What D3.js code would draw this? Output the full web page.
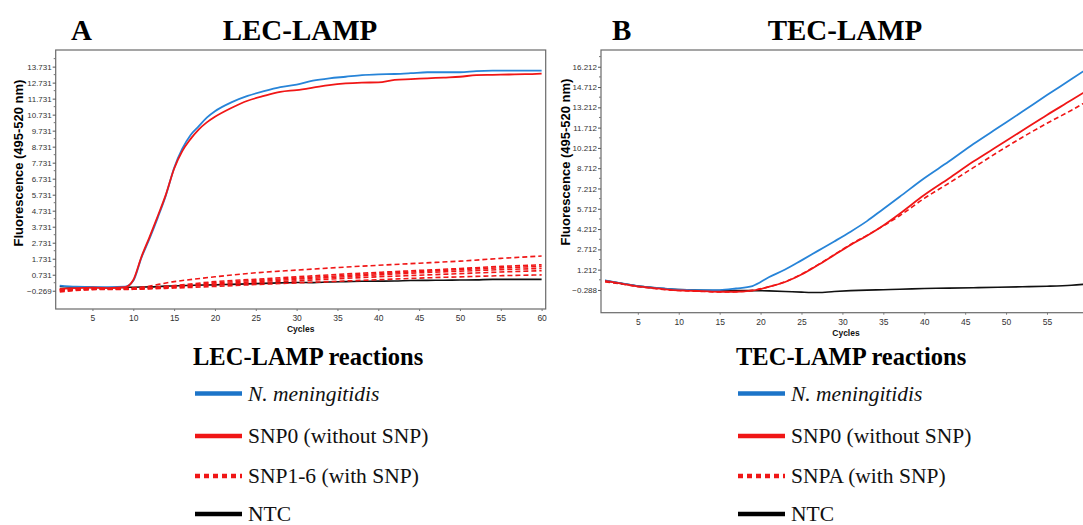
<!DOCTYPE html>
<html>
<head>
<meta charset="utf-8">
<script src="https://cdn.jsdelivr.net/npm/d3@7"></script>
<style>
  body { margin: 0; background: #fff; }
  svg { display: block; overflow: hidden; }
</style>
</head>
<body>
<svg id="chart" width="1083" height="525"></svg>
<script>
// ---- Panel A data (LEC-LAMP) ----
const cyclesA = [1, 3, 5, 7, 9, 10, 11, 12, 13, 14, 15, 16, 17, 18, 19, 20, 22, 24, 26, 28, 30,
  32, 34, 36, 38, 40, 42, 44, 46, 48, 50, 52, 54, 56, 58, 60];
const blueA = [0.05, -0.02, -0.05, -0.05, -0.02, 0.35, 1.8, 3.0, 4.3, 5.7, 7.4, 8.6, 9.45, 10.0, 10.55, 10.95,
  11.5, 11.9, 12.2, 12.45, 12.6, 12.85, 13.0, 13.1, 13.2, 13.25, 13.27, 13.32, 13.38, 13.38, 13.38,
  13.45, 13.48, 13.48, 13.48, 13.48];
const redA = [-0.15, -0.1, -0.08, -0.1, -0.05, 0.4, 1.85, 3.1, 4.4, 5.75, 7.35, 8.45, 9.2, 9.8, 10.25, 10.6,
  11.15, 11.6, 11.9, 12.15, 12.27, 12.42, 12.58, 12.68, 12.73, 12.75, 12.9, 12.95, 13.0, 13.05, 13.1,
  13.2, 13.22, 13.24, 13.26, 13.3];
const ntcA = [0.0, -0.04, -0.06, -0.08, -0.06, -0.05, -0.04, -0.03, -0.01, 0.02, 0.03, 0.05, 0.06, 0.08, 0.09, 0.1,
  0.13, 0.16, 0.19, 0.22, 0.25, 0.24, 0.28, 0.3, 0.32, 0.33, 0.34, 0.37, 0.38, 0.39, 0.4,
  0.41, 0.44, 0.44, 0.44, 0.44];

// SNP1-6 dashed curves, coarser sampling
const cyclesSnpA = [1, 5, 10, 15, 20, 25, 30, 35, 40, 45, 50, 55, 60];
const snp1 = [-0.2, -0.15, -0.1, 0.3, 0.6, 0.85, 1.02, 1.18, 1.32, 1.45, 1.58, 1.75, 1.9];
const snp2 = [-0.25, -0.15, -0.12, 0.05, 0.3, 0.45, 0.6, 0.75, 0.88, 1.0, 1.12, 1.25, 1.35];
const snp3 = [-0.2, -0.18, -0.15, 0.0, 0.22, 0.38, 0.52, 0.66, 0.8, 0.93, 1.05, 1.16, 1.25];
const snp4 = [-0.2, -0.15, -0.15, -0.02, 0.15, 0.3, 0.45, 0.58, 0.72, 0.85, 0.95, 1.05, 1.12];
const snp5 = [-0.3, -0.18, -0.15, -0.05, 0.1, 0.22, 0.35, 0.48, 0.6, 0.7, 0.8, 0.9, 0.98];
const snp6 = [-0.35, -0.2, -0.18, -0.1, 0.0, 0.12, 0.22, 0.32, 0.42, 0.52, 0.6, 0.67, 0.72];

// ---- Panel B data (TEC-LAMP) ----
const cyclesB = [1, 3, 5, 7, 9, 11, 13, 15, 17, 19, 21, 23, 25, 27, 29, 31, 33, 35, 37, 40, 43, 46, 49, 52, 55, 58, 60];
const blueB = [0.42, 0.2, 0.0, -0.12, -0.22, -0.28, -0.3, -0.3, -0.18, 0.0, 0.65, 1.22, 1.9, 2.6, 3.3, 4.02, 4.8,
  5.7, 6.6, 7.97, 9.2, 10.5, 11.7, 12.9, 14.12, 15.3, 16.1];
const redB = [0.38, 0.18, -0.02, -0.15, -0.28, -0.34, -0.38, -0.42, -0.42, -0.34, -0.06, 0.3, 0.85, 1.55, 2.3, 3.04,
  3.72, 4.48, 5.35, 6.73, 7.95, 9.2, 10.35, 11.5, 12.65, 13.75, 14.5];
const snpaB = [0.3, 0.15, -0.05, -0.18, -0.3, -0.36, -0.4, -0.44, -0.42, -0.32, -0.05, 0.32, 0.88, 1.57, 2.32, 3.08,
  3.75, 4.45, 5.2, 6.48, 7.6, 8.75, 9.9, 11.0, 12.03, 13.0, 13.7];
const ntcB = [0.4, 0.2, 0.0, -0.12, -0.22, -0.28, -0.32, -0.34, -0.34, -0.34, -0.36, -0.4, -0.45, -0.48, -0.4, -0.34,
  -0.3, -0.27, -0.24, -0.18, -0.15, -0.12, -0.09, -0.05, -0.01, 0.06, 0.15];

// ---- axis ticks ----
const xTicksA = [5, 10, 15, 20, 25, 30, 35, 40, 45, 50, 55, 60];
const xTicksB = [5, 10, 15, 20, 25, 30, 35, 40, 45, 50, 55];
const yTicksA = [-0.269, 0.731, 1.731, 2.731, 3.731, 4.731, 5.731, 6.731, 7.731, 8.731, 9.731, 10.731, 11.731, 12.731, 13.731];
const yTicksB = [-0.288, 1.212, 2.712, 4.212, 5.712, 7.212, 8.712, 10.212, 11.712, 13.212, 14.712, 16.212];

// ---- legend ----
const legendA = ["N. meningitidis", "SNP0 (without SNP)", "SNP1-6 (with SNP)", "NTC"];
const legendB = ["N. meningitidis", "SNP0 (without SNP)", "SNPA (with SNP)", "NTC"];

const BLUE = "#2784d8", RED = "#f01616", BLACK = "#111";
const serif = "'Liberation Serif', 'Times New Roman', serif";
const sans = "'Liberation Sans', Arial, sans-serif";

const svg = d3.select("#chart");

function drawPanel(p) {
  const x = d3.scaleLinear().domain([0.5, 60.5]).range([p.left, p.right]);
  const y = d3.scaleLinear().domain(p.yDomain).range([p.bottom, p.top]);
  const g = svg.append("g");

  // frame
  g.append("rect")
    .attr("x", p.left).attr("y", p.top)
    .attr("width", p.right - p.left).attr("height", p.bottom - p.top)
    .attr("fill", "none").attr("stroke", "#6a6a6a").attr("stroke-width", 1.2);

  // y axis
  const yAxis = g.append("g")
    .attr("transform", `translate(${p.left},0)`)
    .call(d3.axisLeft(y).tickValues(p.yTicks).tickSize(3).tickPadding(1).tickFormat(d3.format(".3f")));
  yAxis.select(".domain").remove();
  yAxis.selectAll("line").attr("stroke", "#555");
  yAxis.selectAll("text").attr("font-family", sans).attr("font-size", 8).attr("fill", "#333");
  // minor ticks
  const step = p.yTicks[1] - p.yTicks[0];
  g.selectAll(".minor")
    .data(p.yTicks.map(v => v + step / 2).filter(v => y(v) > p.top))
    .enter().append("line")
    .attr("x1", p.left - 2).attr("x2", p.left)
    .attr("y1", d => y(d)).attr("y2", d => y(d))
    .attr("stroke", "#777");

  // x axis
  const xAxis = g.append("g")
    .attr("transform", `translate(0,${p.bottom})`)
    .call(d3.axisBottom(x).tickValues(p.xTicks).tickSize(2).tickPadding(4));
  xAxis.select(".domain").remove();
  xAxis.selectAll("line").attr("stroke", "#777");
  xAxis.selectAll("text").attr("font-family", sans).attr("font-size", 8.5).attr("fill", "#333");

  // axis titles
  g.append("text")
    .attr("x", (p.left + p.right) / 2 + p.cyclesDx).attr("y", p.bottom + 23)
    .attr("text-anchor", "middle").attr("font-family", sans).attr("font-weight", "bold")
    .attr("font-size", 8.5).attr("fill", "#111").text("Cycles");
  g.append("text")
    .attr("transform", `translate(${p.yLabelX},${p.yLabelY}) rotate(-90)`)
    .attr("text-anchor", "middle").attr("font-family", sans).attr("font-weight", "bold")
    .attr("font-size", 13).attr("fill", "#000").text("Fluorescence (495-520 nm)");

  // curves
  const line = d3.line().x(d => x(d[0])).y(d => y(d[1])).curve(d3.curveMonotoneX);
  const plot = g.append("g");
  p.series.forEach(s => {
    plot.append("path")
      .datum(s.cycles.map((c, i) => [c, s.values[i]]))
      .attr("d", line)
      .attr("fill", "none")
      .attr("stroke", s.color)
      .attr("stroke-width", s.width || 1.8)
      .attr("stroke-dasharray", s.dash || null);
  });

  // panel letter and title
  svg.append("text").attr("x", p.letterX).attr("y", 40)
    .attr("font-family", serif).attr("font-weight", "bold").attr("font-size", 29).text(p.letter);
  svg.append("text").attr("x", p.titleX).attr("y", 40).attr("text-anchor", "middle")
    .attr("font-family", serif).attr("font-weight", "bold").attr("font-size", 29).text(p.title);

  // legend
  const lg = svg.append("g");
  lg.append("text").attr("x", p.legX - 2).attr("y", 365)
    .attr("font-family", serif).attr("font-weight", "bold").attr("font-size", 24.5)
    .text(p.title + " reactions");
  const ys = [393.5, 436, 476, 514];
  const styles = [
    {color: "#1c74c8", dash: null},
    {color: RED, dash: null},
    {color: RED, dash: "5,4"},
    {color: "#000", dash: null}
  ];
  p.legend.forEach((label, i) => {
    lg.append("line")
      .attr("x1", p.legX).attr("x2", p.legX + 47)
      .attr("y1", ys[i]).attr("y2", ys[i])
      .attr("stroke", styles[i].color).attr("stroke-width", 4.5)
      .attr("stroke-dasharray", styles[i].dash);
    lg.append("text").attr("x", p.legX + 53).attr("y", ys[i] + 7)
      .attr("font-family", serif).attr("font-size", 21.5).attr("fill", "#111")
      .attr("font-style", i === 0 ? "italic" : "normal")
      .text(label);
  });
}

const dashA = "5,3";
drawPanel({
  left: 55.7, right: 545.7, top: 50, bottom: 309,
  yDomain: [-1.41, 14.77], yTicks: yTicksA, xTicks: xTicksA,
  yLabelX: 23, yLabelY: 163, cyclesDx: 0,
  letter: "A", letterX: 71, title: "LEC-LAMP", titleX: 300,
  legend: legendA, legX: 195,
  series: [
    {cycles: cyclesA, values: ntcA, color: BLACK, width: 1.6},
    {cycles: cyclesA, values: blueA, color: BLUE},
    {cycles: cyclesA, values: redA, color: RED},
    {cycles: cyclesSnpA, values: snp6, color: RED, dash: dashA, width: 1.6},
    {cycles: cyclesSnpA, values: snp5, color: RED, dash: dashA, width: 1.6},
    {cycles: cyclesSnpA, values: snp4, color: RED, dash: dashA, width: 1.6},
    {cycles: cyclesSnpA, values: snp3, color: RED, dash: dashA, width: 1.6},
    {cycles: cyclesSnpA, values: snp2, color: RED, dash: dashA, width: 1.6},
    {cycles: cyclesSnpA, values: snp1, color: RED, dash: dashA, width: 1.6}
  ]
});

drawPanel({
  left: 601, right: 1092, top: 50, bottom: 312.7,
  yDomain: [-1.97, 17.45], yTicks: yTicksB, xTicks: xTicksB,
  yLabelX: 570, yLabelY: 162, cyclesDx: -0.5,
  letter: "B", letterX: 612, title: "TEC-LAMP", titleX: 845,
  legend: legendB, legX: 738,
  series: [
    {cycles: cyclesB, values: snpaB, color: RED, dash: "5,3", width: 1.6},
    {cycles: cyclesB, values: ntcB, color: BLACK, width: 1.6},
    {cycles: cyclesB, values: blueB, color: BLUE},
    {cycles: cyclesB, values: redB, color: RED}
  ]
});
</script>
</body>
</html>
